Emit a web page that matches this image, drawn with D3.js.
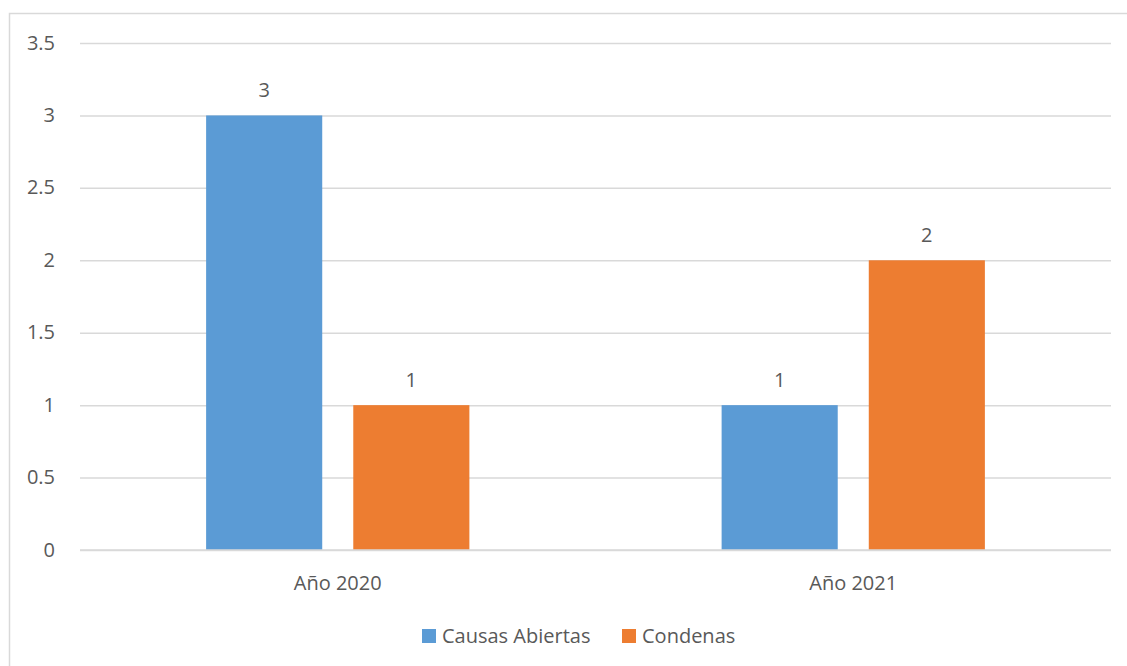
<!DOCTYPE html>
<html lang="en">
<head>
    <meta charset="UTF-8">
    <title>Causas Abiertas y Condenas</title>
    <script src="https://d3js.org/d3.v7.min.js"></script>
    <style>
        body { margin: 0; background: #fff; }
        text { font-family: "Open Sans", "Liberation Sans", sans-serif; fill: #595959; }
    </style>
</head>
<body>
    <svg id="chart" width="1127" height="666"></svg>

    <script>
        // Data
        const categories = ["Año 2020", "Año 2021"];
        const seriesNames = ["Causas Abiertas", "Condenas"];
        const causasAbiertas = [3, 1];
        const condenas = [1, 2];
        const yTicks = [0, 0.5, 1, 1.5, 2, 2.5, 3, 3.5];
        const colors = ["#5b9bd5", "#ed7d31"];

        const svg = d3.select("#chart");
        const margin = { left: 80, right: 16, top: 43, bottom: 116 };
        const width = 1127, height = 666;
        const fs = 20;

        // Outer chart border
        svg.append("rect")
            .attr("x", 9.5).attr("y", 13.5)
            .attr("width", width).attr("height", height)
            .attr("fill", "none")
            .attr("stroke", "#d9d9d9")
            .attr("stroke-width", 1.5);

        const x = d3.scaleBand()
            .domain(categories)
            .range([margin.left, width - margin.right]);

        const xInner = d3.scaleBand()
            .domain(seriesNames)
            .range([0, x.bandwidth()])
            .paddingInner(0.211)
            .paddingOuter(0.857);

        const y = d3.scaleLinear()
            .domain([0, 3.5])
            .range([height - margin.bottom, margin.top]);

        // Gridlines + y labels
        const yAxis = svg.append("g")
            .attr("transform", `translate(${margin.left},0)`)
            .call(d3.axisLeft(y).tickValues(yTicks).tickFormat(d => d).tickSize(-(width - margin.left - margin.right)).tickPadding(25));
        yAxis.select(".domain").remove();
        yAxis.selectAll(".tick line").attr("stroke", "#d9d9d9").attr("stroke-width", 1.5);
        yAxis.selectAll(".tick text").attr("font-size", fs).attr("fill", "#595959").attr("dy", "0.3em");

        // Bars
        const rows = categories.map((c, i) => ({ cat: c, values: [causasAbiertas[i], condenas[i]] }));
        const groups = svg.append("g").selectAll("g")
            .data(rows)
            .join("g")
            .attr("transform", d => `translate(${x(d.cat)},0)`);

        groups.selectAll("rect")
            .data(d => d.values.map((v, j) => ({ name: seriesNames[j], v, j })))
            .join("rect")
            .attr("x", d => xInner(d.name))
            .attr("y", d => y(d.v))
            .attr("width", xInner.bandwidth())
            .attr("height", d => y(0) - y(d.v))
            .attr("fill", d => colors[d.j]);

        groups.selectAll("text.val")
            .data(d => d.values.map((v, j) => ({ name: seriesNames[j], v, j })))
            .join("text")
            .attr("class", "val")
            .attr("x", d => xInner(d.name) + xInner.bandwidth() / 2)
            .attr("y", d => y(d.v) - 18)
            .attr("text-anchor", "middle")
            .attr("font-size", fs)
            .text(d => d.v);

        // X axis baseline and labels
        svg.append("line")
            .attr("x1", margin.left).attr("x2", width - margin.right)
            .attr("y1", y(0)).attr("y2", y(0))
            .attr("stroke", "#d9d9d9").attr("stroke-width", 1.5);

        svg.append("g").selectAll("text")
            .data(categories)
            .join("text")
            .attr("x", d => x(d) + x.bandwidth() / 2)
            .attr("y", y(0) + 40)
            .attr("text-anchor", "middle")
            .attr("font-size", fs)
            .text(d => d);

        // Legend
        const legendX = [422, 622];
        const legend = svg.append("g").selectAll("g")
            .data(seriesNames)
            .join("g")
            .attr("transform", (d, i) => `translate(${legendX[i]},629)`);
        legend.append("rect")
            .attr("width", 14).attr("height", 14)
            .attr("fill", (d, i) => colors[i]);
        legend.append("text")
            .attr("x", 20).attr("y", 14)
            .attr("font-size", fs)
            .text(d => d);
    </script>
</body>
</html>
